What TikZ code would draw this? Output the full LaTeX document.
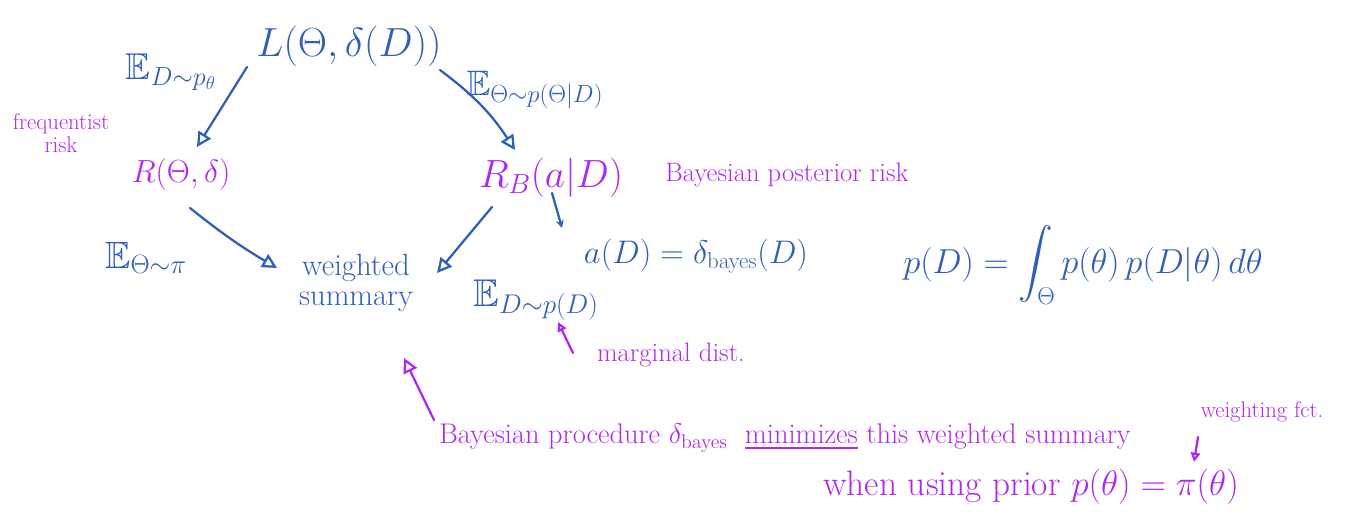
\documentclass[tikz,border=0pt]{standalone}
\usepackage{amssymb}
\DeclareFontShape{OML}{cmm}{m}{it}{<-6> cmmi5 <6-7> cmmi6 <7-8> cmmi7 <8-9> cmmi8 <9-10> cmmi9 <10-12> cmmi10 <12-> cmmi12}{}
\DeclareFontShape{OMS}{cmsy}{m}{n}{<-6> cmsy5 <6-7> cmsy6 <7-8> cmsy7 <8-9> cmsy8 <9-10> cmsy9 <10-> cmsy10}{}
\DeclareFontShape{OMX}{cmex}{m}{n}{<-> cmex10}{}
\DeclareFontShape{OT1}{cmr}{m}{n}{<-6> cmr5 <6-7> cmr6 <7-8> cmr7 <8-9> cmr8 <9-10> cmr9 <10-12> cmr10 <12-17> cmr12 <17-> cmr17}{}
\DeclareFontFamily{U}{msb}{}
\DeclareFontShape{U}{msb}{m}{n}{<-6> msbm5 <6-8> msbm7 <8-> msbm10}{}
\usetikzlibrary{arrows.meta,calc}
\definecolor{ink}{RGB}{47,95,185}
\definecolor{pen}{RGB}{175,40,240}
\begin{document}
\begin{tikzpicture}[x=0.75pt,y=-0.75pt,
  bl/.style={text=ink, inner sep=0pt},
  pu/.style={text=pen, inner sep=0pt},
  fs/.style={font=\fontsize{#1}{#1}\selectfont},
  bar/.style={draw=ink, line width=1.7pt, line cap=round, -{Triangle[open,length=11pt,width=11pt]}},
  par/.style={draw=pen, line width=1.7pt, line cap=round, -{Triangle[open,length=11pt,width=11pt]}},
  sbar/.style={draw=ink, line width=1.7pt, line cap=round, -{Stealth[length=6pt,width=6pt]}},
  spar/.style={draw=pen, line width=1.7pt, line cap=round, -{Triangle[open,length=7pt,width=7pt]}},
]
\useasboundingbox (0,0) rectangle (1348,514);

\node[bl,fs=30.5] (L) at (349,46) {$L(\Theta,\delta(D))$};
\node[bl,fs=28] (e1) at (171,72) {$\mathbb{E}_{D\sim p_\theta}$};
\node[pu,fs=17,align=center] (freq) at (61,133) {frequentist\\risk};
\node[pu,fs=24] (R) at (181,174) {$R(\Theta,\delta)$};
\node[bl,fs=26.5] (e2) at (535,90) {$\mathbb{E}_{\Theta\sim p(\Theta|D)}$};
\node[pu,fs=29.5] (RB) at (551,178) {$R_B(a|D)$};
\node[pu,fs=20] (bpr) at (787,175) {Bayesian posterior risk};
\node[bl,fs=28.5] (e3) at (146,258) {$\mathbb{E}_{\Theta\sim\pi}$};
\node[bl,fs=23,align=center] (ws) at (356,283) {weighted\\summary};
\node[bl,fs=29] (e4) at (536,300) {$\mathbb{E}_{D\sim p(D)}$};
\node[bl,fs=24.5] (aD) at (696,256) {$a(D)=\delta_{\mathrm{bayes}}(D)$};
\node[pu,fs=20] (md) at (671,355) {marginal dist.};
\node[bl,fs=26] (pD) at (1083,265) {$\displaystyle p(D)=\int_\Theta p(\theta)\,p(D|\theta)\,d\theta$};
\node[pu,fs=21.3] (l1) at (785,438) {Bayesian procedure $\delta_{\mathrm{bayes}}$\ \ \underline{minimizes} this weighted summary};
\node[pu,fs=17] (wf) at (1262,412) {weighting fct.};
\node[pu,fs=26.5] (l2) at (1031,487) {when using prior $p(\theta)=\pi(\theta)$};

% connectors
\draw[bar] ($(L)+(-102,21)$) -- ($(R)+(16,-27)$);
\draw[bar] ($(L)+(91,24)$) to[bend left=10] ($(RB)+(-36,-28)$);
\draw[bar] ($(R)+(9,34)$) to[bend right=4] ($(ws)+(-79,-15)$);
\draw[bar] ($(RB)+(-59,29)$) -- ($(ws)+(81,-10)$);
\draw[sbar] ($(RB)+(1,15)$) -- ($(aD)+(-134,-28)$);
\draw[spar] ($(md)+(-98,-2)$) -- ($(e4)+(22,22)$);
\draw[par] ($(l1)+(-351,-18)$) -- ($(ws)+(48,75)$);
\draw[spar] ($(wf)+(-64,25)$) -- ($(l2)+(163,-25)$);
\end{tikzpicture}
\end{document}
